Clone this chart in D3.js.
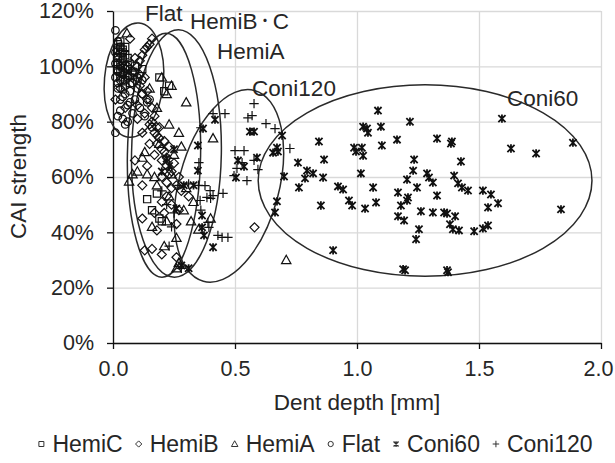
<!DOCTYPE html>
<html>
<head>
<meta charset="utf-8">
<script src="https://cdn.jsdelivr.net/npm/d3@7"></script>
<style>
  body { margin: 0; background: #fff; }
  svg text { font-family: "Liberation Sans", Arial, "Noto Sans CJK JP", sans-serif; fill: #262626; }
</style>
</head>
<body>
<svg id="chart" width="615" height="463"></svg>
<script>
// ── Axis ticks ────────────────────────────────────────────────────────────────
const xTicks = [0, 0.5, 1.0, 1.5, 2.0];
const yTicks = [0, 20, 40, 60, 80, 100, 120];

// ── Series: [dent depth mm, CAI strength %] ─────────────────────────────────
const hemiC = [
  [0.02,108],[0.03,107],[0.02,106],[0.04,106],[0.03,105],[0.05,104],[0.02,103],[0.04,102],
  [0.03,101],[0.05,100],[0.02,99],[0.04,98],[0.06,97],[0.03,96],[0.05,95],[0.07,94],
  [0.04,92],[0.08,97],[0.19,96],[0.23,93],[0.21,91],[0.14,52],[0.18,54],[0.20,44],
  [0.16,48],[0.19,45],[0.12,99],[0.09,100],[0.06,103],[0.04,105],[0.03,109],[0.05,107],
  [0.02,101],[0.06,99],[0.04,100],[0.03,98],[0.07,96]
];
const hemiB = [
  [0.08,98],[0.10,100],[0.11,102],[0.12,104],[0.13,106],[0.14,107],[0.15,108],[0.16,110],
  [0.09,95],[0.11,93],[0.13,96],[0.12,90],[0.14,88],[0.10,86],[0.16,85],[0.13,83],
  [0.17,82],[0.15,79],[0.19,78],[0.18,75],[0.21,73],[0.20,70],[0.23,71],[0.22,67],
  [0.25,65],[0.24,62],[0.27,60],[0.26,57],[0.28,55],[0.10,81],[0.12,76],[0.15,72],
  [0.17,68],[0.14,64],[0.09,66],[0.20,60],[0.22,58],[0.12,57],[0.13,33.5],[0.16,34],
  [0.20,32],[0.18,40.7],[0.17,47],[0.26,31],[0.26,43],[0.31,53],[0.27,48],[0.58,41.8],
  [0.07,110],[0.06,100],[0.03,92],[0.01,88],[0.05,85],[0.12,45],[0.16,80],[0.18,78],
  [0.17,76],[0.19,74],[0.21,69],[0.22,64],[0.23,61],[0.24,56],[0.22,53],[0.24,50],
  [0.21,47],[0.20,51],[0.09,103],[0.11,97],[0.14,91],[0.18,72],[0.20,66]
];
const hemiA = [
  [0.057,112],[0.20,96],[0.24,93],[0.22,90],[0.30,87],[0.23,79],[0.27,76],[0.28,71],
  [0.41,74],[0.12,67],[0.13,69],[0.08,61],[0.066,58.4],[0.14,61],[0.17,60],[0.24,61],
  [0.33,51],[0.29,48],[0.32,44],[0.40,45],[0.22,44],[0.21,35],[0.26,38],[0.27,29],
  [0.71,30],[0.18,85],[0.15,92],[0.25,68],[0.19,72],[0.30,56],[0.23,53],[0.26,27],
  [0.16,42],[0.35,41],[0.10,62],[0.18,57]
];
const flat = [
  [0.01,113],[0.02,109],[0.03,107],[0.01,105],[0.02,104],[0.04,103],[0.01,101],[0.03,100],
  [0.05,99],[0.02,98],[0.04,97],[0.06,96],[0.03,95],[0.08,94],[0.05,93],[0.10,92],
  [0.07,91],[0.12,90],[0.04,89],[0.09,88],[0.14,87],[0.06,86],[0.11,85],[0.03,84],
  [0.08,83],[0.02,82],[0.04,81],[0.06,80],[0.05,79],[0.13,82],[0.16,78],[0.01,76],
  [0.15,88],[0.10,96],[0.07,101],[0.12,95],[0.09,98],[0.02,92],[0.01,96],[0.03,88],
  [0.05,90],[0.07,87],[0.02,94],[0.04,95]
];
const coni60 = [
  [1.086,84.0],[1.025,78.2],[1.041,77.5],[1.045,76.0],[1.098,78.2],[1.217,80.0],[0.844,72.8],
  [0.988,70.6],[0.996,69.2],[1.020,70.6],[1.025,67.7],[1.102,71.4],[1.164,73.5],[1.328,73.9],
  [1.389,72.8],[1.385,72.1],[1.594,81.1],[1.631,70.3],[1.734,68.5],[1.885,72.4],[0.865,66.3],
  [0.795,62.3],[0.820,61.3],[0.787,59.5],[0.861,59.8],[1.016,61.3],[1.234,66.3],[1.230,62.3],
  [1.287,61.3],[1.295,59.8],[1.311,58.0],[1.205,59.1],[1.426,65.6],[1.398,60.5],[1.414,57.7],
  [1.430,56.2],[1.455,55.1],[0.922,56.6],[0.943,55.5],[1.066,56.2],[1.246,56.2],[1.168,54.4],
  [1.328,53.3],[1.209,52.6],[1.205,51.5],[1.180,49.7],[0.967,51.5],[0.980,49.7],[0.852,49.7],
  [1.033,48.6],[1.078,50.8],[1.516,55.1],[1.549,53.7],[1.578,50.5],[1.537,49.0],[1.262,47.6],
  [1.311,47.2],[1.357,47.2],[1.369,46.8],[1.402,45.8],[1.168,45.8],[1.193,44.3],[1.381,42.9],
  [1.393,41.1],[1.418,40.7],[1.480,40.4],[1.516,41.4],[1.537,42.5],[1.254,41.1],[1.242,37.5],
  [1.836,48.3],[0.902,33.5],[1.189,26.7],[1.197,26.3],[1.369,26.3],[1.373,25.6],
  [0.693,75.0],[0.672,70.6],[0.676,69.2],[0.656,68.8],[0.590,67.0],[0.701,60.2],[0.672,51.2],
  [0.664,47.2],[0.758,65.2],[0.762,56.2],
  [0.418,80.7],[0.369,77.5],[0.348,71.4],[0.348,62.3],[0.561,76.4],[0.578,76.4],[0.512,66.0],
  [0.537,63.8],[0.504,59.8],[0.365,46.1],[0.365,41.8],[0.373,38.9],[0.41,34.6],[0.29,57],
  [0.33,57],[0.22,66.7],[0.23,64],[0.26,48.6],[0.31,27],[0.28,28],[0.25,70],[0.20,62]
];
const coni120 = [
  [0.578,86.5],[0.553,81.4],[0.570,82.2],[0.627,79.3],[0.664,77.5],[0.725,70.3],[0.578,66.0],
  [0.594,62.7],[0.50,69.5],[0.537,69.5],[0.529,65.2],[0.508,63.1],[0.496,60.5],[0.549,58.7],
  [0.459,82.9],[0.41,82.9],[0.36,77.8],[0.352,65.2],[0.377,56.9],[0.398,55.1],[0.41,53.3],
  [0.451,54.1],[0.385,52.6],[0.357,51.5],[0.40,52.3],[0.389,43.6],[0.393,41.8],[0.43,38.9],
  [0.447,38.2],[0.471,38.2],[0.27,57],[0.31,57.5],[0.35,57],[0.22,50],[0.25,47],[0.24,42],
  [0.20,55],[0.23,35],[0.28,27],[0.36,48]
];

// ── Group ellipses (data units) and their labels ─────────────────────────────
const ellipses = [
  { cx: 0.086, cy: 95.0, rx: 0.121, ry: 20.7, rot: 5 },   // Flat
  { cx: 0.209, cy: 67.9, rx: 0.150, ry: 44.1, rot: 1 },   // HemiA
  { cx: 0.260, cy: 68.5, rx: 0.184, ry: 44.7, rot: 1 },   // HemiB・C
  { cx: 0.475, cy: 56.8, rx: 0.205, ry: 35.7, rot: 15 },  // Coni120
  { cx: 1.279, cy: 58.7, rx: 0.684, ry: 34.6, rot: 0 }    // Coni60
];
const groupLabels = [
  { text: 'Flat',     x: 0.131, y: 116.4 },
  { text: 'HemiB・C', x: 0.316, y: 113.5 },
  { text: 'HemiA',    x: 0.426, y: 102.7 },
  { text: 'Coni120',  x: 0.570, y: 89.4 },
  { text: 'Coni60',   x: 1.615, y: 85.8 }
];

// ── Marker shapes ────────────────────────────────────────────────────────────
const SHAPES = {
  square:   s => `M${-s},${-s}H${s}V${s}H${-s}Z`,
  diamond:  s => `M0,${-s*1.25}L${s*1.25},0L0,${s*1.25}L${-s*1.25},0Z`,
  triangle: s => `M0,${-s*1.3}L${s*1.3},${s}L${-s*1.3},${s}Z`,
  circle:   s => `M${s*1.05},0A${s*1.05},${s*1.05} 0 1,1 ${-s*1.05},0A${s*1.05},${s*1.05} 0 1,1 ${s*1.05},0Z`,
  star:     s => `M${-s},${-s}L${s},${s}M${-s},${s}L${s},${-s}M0,${-s*1.15}V${s*1.15}`,
  plus:     s => `M${-s*1.3},0H${s*1.3}M0,${-s*1.3}V${s*1.3}`
};

const series = [
  { name: 'HemiC',   shape: 'square',   pts: hemiC },
  { name: 'HemiB',   shape: 'diamond',  pts: hemiB },
  { name: 'HemiA',   shape: 'triangle', pts: hemiA },
  { name: 'Flat',    shape: 'circle',   pts: flat },
  { name: 'Coni60',  shape: 'star',     pts: coni60 },
  { name: 'Coni120', shape: 'plus',     pts: coni120 }
];

// ── Chart ─────────────────────────────────────────────────────────────────────
const svg = d3.select('#chart');
const M = { left: 113, right: 601, top: 11, bottom: 343 };

const x = d3.scaleLinear().domain([0, 2]).range([M.left, M.right]);
const y = d3.scaleLinear().domain([0, 120]).range([M.bottom, M.top]);

// gridlines
svg.append('g')
  .attr('transform', `translate(0,${M.bottom})`)
  .call(d3.axisBottom(x).tickValues(xTicks).tickSize(-(M.bottom - M.top)).tickFormat(''))
  .call(g => g.select('.domain').remove())
  .call(g => g.selectAll('line').attr('stroke', '#d9d9d9').attr('stroke-width', 1.3));
svg.append('g')
  .attr('transform', `translate(${M.left},0)`)
  .call(d3.axisLeft(y).tickValues(yTicks).tickSize(-(M.right - M.left)).tickFormat(''))
  .call(g => g.select('.domain').remove())
  .call(g => g.selectAll('line').attr('stroke', '#d9d9d9').attr('stroke-width', 1.3));

// axes
const xAxis = svg.append('g')
  .attr('transform', `translate(0,${M.bottom})`)
  .call(d3.axisBottom(x).tickValues(xTicks).tickSize(6).tickPadding(12).tickSizeOuter(0)
    .tickFormat(d3.format('.1f')));
const yAxis = svg.append('g')
  .attr('transform', `translate(${M.left},0)`)
  .call(d3.axisLeft(y).tickValues(yTicks).tickSize(6).tickPadding(13).tickSizeOuter(0)
    .tickFormat(d => d + '%'));
[xAxis, yAxis].forEach(a => {
  a.select('.domain').attr('stroke', '#111').attr('stroke-width', 1.3);
  a.selectAll('.tick line').attr('stroke', '#111').attr('stroke-width', 1.3);
  a.selectAll('.tick text').attr('font-size', 21.5).attr('fill', '#262626')
    .style('font-family', '"Liberation Sans", Arial, sans-serif');
});
// keep the last x label inside the frame
xAxis.selectAll('.tick text').filter(d => d === 2).attr('x', -3);

// axis titles
svg.append('text')
  .attr('x', (M.left + M.right) / 2).attr('y', 410)
  .attr('text-anchor', 'middle').attr('font-size', 22.5)
  .text('Dent depth [mm]');
svg.append('text')
  .attr('transform', `translate(26,176.5) rotate(-90)`)
  .attr('text-anchor', 'middle').attr('font-size', 22.5)
  .text('CAI strength');

// ellipses
svg.append('g').selectAll('ellipse')
  .data(ellipses).enter().append('ellipse')
  .attr('transform', d => `translate(${x(d.cx)},${y(d.cy)}) rotate(${d.rot})`)
  .attr('rx', d => x(d.rx) - x(0))
  .attr('ry', d => y(0) - y(d.ry))
  .attr('fill', 'none')
  .attr('stroke', '#2a2a2a')
  .attr('stroke-width', 1.5);

// markers
series.slice().reverse().forEach(s => {
  svg.append('g').selectAll('path')
    .data(s.pts).enter().append('path')
    .attr('transform', d => `translate(${x(d[0])},${y(d[1])})`)
    .attr('d', SHAPES[s.shape](3.6))
    .attr('fill', 'none')
    .attr('stroke', '#111')
    .attr('stroke-width', s.shape === 'star' ? 1.8 : 1.2);
});

// group labels (the middle dot is drawn a little smaller, as in the original)
svg.append('g').selectAll('text')
  .data(groupLabels).enter().append('text')
  .attr('x', d => x(d.x)).attr('y', d => y(d.y))
  .attr('font-size', 22.5).attr('fill', '#1a1a1a')
  .each(function(d) {
    const parts = d.text.split('・');
    const t = d3.select(this);
    parts.forEach((p, i) => {
      if (i > 0) t.append('tspan').attr('font-size', 15).attr('dy', -3).text('・');
      t.append('tspan').attr('dy', i > 0 ? 3 : 0).text(p);
    });
  });

// ── Legend ────────────────────────────────────────────────────────────────────
const legend = svg.append('g');
let cursor = 0;
series.forEach(s => {
  const item = legend.append('g').attr('transform', `translate(${cursor},0)`);
  item.append('path')
    .attr('transform', 'translate(5,-8)')
    .attr('d', SHAPES[s.shape](2.5))
    .attr('fill', 'none').attr('stroke', '#333')
    .attr('stroke-width', s.shape === 'star' ? 1.4 : 1);
  const t = item.append('text').attr('x', 16).attr('y', 0)
    .attr('font-size', 23).text(s.name);
  cursor += 16 + t.node().getComputedTextLength() + 11;
});
const legendW = cursor - 11;
legend.attr('transform', `translate(${(31 + 598) / 2 - legendW / 2},452)`);
</script>
</body>
</html>
